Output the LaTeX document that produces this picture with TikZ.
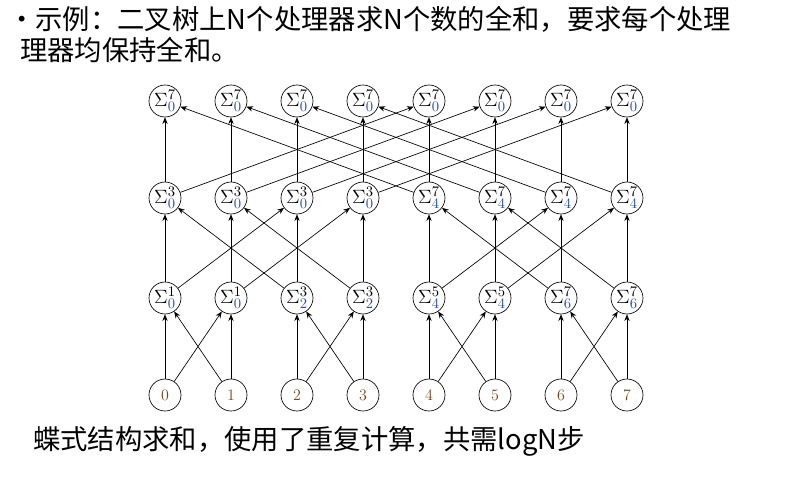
\documentclass[tikz,border=0pt]{standalone}
\usepackage{fontspec}
\newfontfamily\cjk{Noto Sans CJK SC}
\usetikzlibrary{arrows.meta}
\definecolor{sb}{RGB}{40,80,170}
\definecolor{lf}{RGB}{120,70,30}
\begin{document}
\begin{tikzpicture}[x=0.75pt,y=-0.75pt,
 nd/.style={circle,draw,line width=0.5pt,minimum size=24pt,inner sep=0pt,font=\fontsize{12}{14}\selectfont},
 sn/.style={nd,font=\fontsize{15}{17}\selectfont},
 ar/.style={-{Stealth[length=5pt,width=4pt]},line width=0.5pt}]
\useasboundingbox (0,0) rectangle (799,476);
\node[anchor=west,font=\cjk\fontsize{20.5}{24}\selectfont,inner sep=0pt] (t1) at (8,19) {•示例：二叉树上N个处理器求N个数的全和，要求每个处理};
\node[anchor=west,font=\cjk\fontsize{20.5}{24}\selectfont,inner sep=0pt] (t2) at (20,50) {理器均保持全和。};
\node[anchor=west,font=\cjk\fontsize{20.5}{24}\selectfont,inner sep=0pt] (t3) at (33,441) {蝶式结构求和，使用了重复计算，共需logN步};
\foreach \i in {0,...,7}{
 \pgfmathtruncatemacro\x{165+66*\i}
 \node[nd] (L\i) at (\x,395) {\color{lf}\i};
 \pgfmathtruncatemacro\a{2*int(\i/2)}\pgfmathtruncatemacro\b{\a+1}
 \node[sn] (A\i) at (\x,298) {$\Sigma^{\b}_{\color{sb}\a}$};
 \pgfmathtruncatemacro\c{4*int(\i/4)}\pgfmathtruncatemacro\d{\c+3}
 \node[sn] (B\i) at (\x,198) {$\Sigma^{\d}_{\color{sb}\c}$};
 \node[sn] (C\i) at (\x,101) {$\Sigma^{7}_{\color{sb}0}$};
}
\foreach \i in {0,...,7}{
 \pgfmathtruncatemacro\p{\i+1-2*mod(\i,2)}
 \pgfmathtruncatemacro\q{mod(\i,4)<2 ? \i+2 : \i-2}
 \pgfmathtruncatemacro\r{\i<4 ? \i+4 : \i-4}
 \draw[ar] (L\i) -- (A\i); \draw[ar] (L\i) -- (A\p);
 \draw[ar] (A\i) -- (B\i); \draw[ar] (A\i) -- (B\q);
 \draw[ar] (B\i) -- (C\i); \draw[ar] (B\i) -- (C\r);
}
\end{tikzpicture}
\end{document}
